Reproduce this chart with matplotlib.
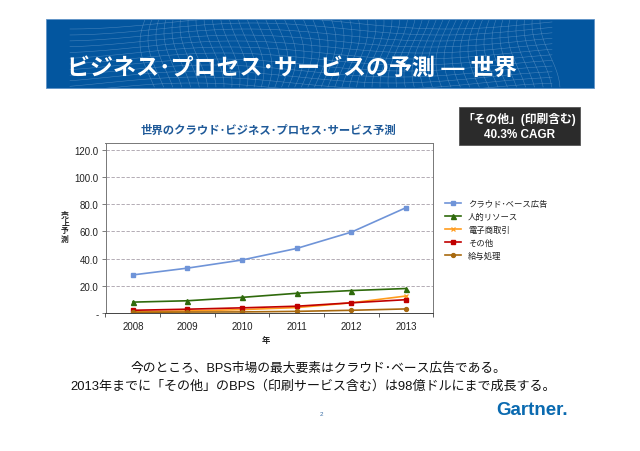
import numpy as np
import matplotlib
matplotlib.use("Agg")
import matplotlib.pyplot as plt
from matplotlib.patches import Rectangle

plt.rcParams['font.family'] = ['Liberation Sans', 'Noto Sans CJK JP', 'DejaVu Sans']

# ---------------------------
# Data
# ---------------------------
years = ['2008', '2009', '2010', '2011', '2012', '2013']
cloud = [28.0, 33.0, 39.0, 47.5, 59.5, 77.5]
hr = [8.0, 9.0, 11.5, 14.5, 16.5, 18.0]
ecommerce = [1.0, 1.5, 2.5, 4.0, 7.5, 12.5]
other = [2.0, 2.8, 3.8, 5.0, 7.5, 9.8]
payroll = [0.5, 0.7, 0.8, 1.2, 2.0, 3.0]
y_ticks = [0, 20, 40, 60, 80, 100, 120]
y_labels = ['-', '20.0', '40.0', '60.0', '80.0', '100.0', '120.0']

W, H = 640, 452
fig = plt.figure(figsize=(W / 100, H / 100), dpi=100, facecolor='white')


def box(x0, y0, x1, y1):
    # pixel box (top-left origin) to figure fractions
    return [x0 / W, 1 - y1 / H, (x1 - x0) / W, (y1 - y0) / H]


# ---------------------------
# Page layer (banner, texts)
# ---------------------------
page = fig.add_axes([0, 0, 1, 1])
page.set_xlim(0, W)
page.set_ylim(H, 0)
page.axis('off')

banner = Rectangle((46, 20), 548, 69, facecolor='#03569f', edgecolor='#5f93c8', lw=0.6)
page.add_patch(banner)

# mesh pattern on the banner, only over the middle part
for gx in np.arange(150, 555, 8):
    yy = np.linspace(21, 88, 40)
    xx = gx + 10 * np.sin((yy + gx * 0.4) / 22)
    ln, = page.plot(xx, yy, color='#7aa6d0', lw=0.4, alpha=0.55)
    ln.set_clip_path(banner)
for gy in np.arange(24, 92, 6):
    xx = np.linspace(70, 552, 80)
    yy = gy + 6 * np.sin((xx + gy) / 60)
    ln, = page.plot(xx, yy, color='#7aa6d0', lw=0.4, alpha=0.55)
    ln.set_clip_path(banner)

page.text(67, 68, 'ビジネス･プロセス･サービスの予測 ― 世界', color='white',
          fontsize=16.6, fontweight='bold', ha='left', va='center')

page.add_patch(Rectangle((459, 108), 121, 38, facecolor='#2b2b2b', edgecolor='#555555', lw=0.6))
page.text(519.5, 119, '「その他」(印刷含む)', color='white', fontsize=8.5, fontweight='bold',
          ha='center', va='center')
page.text(519.5, 135, '40.3% CAGR', color='white', fontsize=8.5, fontweight='bold',
          ha='center', va='center')

page.text(268, 130, '世界のクラウド･ビジネス･プロセス･サービス予測', color='#1f5a99',
          fontsize=8.2, fontweight='bold', ha='center', va='center')

page.text(318, 369, '今のところ、BPS市場の最大要素はクラウド･ベース広告である。',
          color='#111111', fontsize=9.2, ha='center', va='center')
page.text(313, 387, '2013年までに「その他」のBPS（印刷サービス含む）は98億ドルにまで成長する。',
          color='#111111', fontsize=9.4, ha='center', va='center')
page.text(321, 415, '2', color='#3a6ea5', fontsize=4.5, ha='center', va='center')
page.text(532, 411, 'Gartner.', color='#0a6ab0', fontsize=13.5, fontweight='bold',
          ha='center', va='center')

# ---------------------------
# Chart
# ---------------------------
ax = fig.add_axes(box(105.5, 144, 433.5, 314))
x = np.arange(len(years))
ax.plot(x, cloud, color='#6f94d8', marker='s', ms=3.2, lw=1.2, label='クラウド･ベース広告')
ax.plot(x, hr, color='#2f6a0c', marker='^', ms=3.6, lw=1.2, label='人的リソース')
ax.plot(x, ecommerce, color='#ff9c1e', marker='x', ms=3.4, mew=0.9, lw=1.2, label='電子商取引')
ax.plot(x, other, color='#c00000', marker='s', ms=2.8, lw=1.2, label='その他')
ax.plot(x, payroll, color='#a8690f', marker='o', ms=2.8, lw=1.2, label='給与処理')

ax.set_xlim(-0.5, 5.5)
ax.set_ylim(0, 125)
ax.set_xticks(np.arange(-0.5, 6))
ax.set_xticklabels([])
ax.set_xticks(x, minor=True)
ax.set_xticklabels(years, minor=True, fontsize=7, color='#222222')
ax.tick_params(axis='x', which='major', length=3, width=0.6, color='#444444', direction='out')
ax.tick_params(axis='x', which='minor', length=0, pad=6)
ax.set_yticks(y_ticks)
ax.set_yticklabels(y_labels, fontsize=7, color='#222222')
ax.tick_params(axis='y', length=3, width=0.6, color='#666666', pad=2)
ax.grid(axis='y', color='#a79fa9', ls='--', lw=0.6, dashes=(4, 2))
ax.set_axisbelow(True)
for s in ax.spines.values():
    s.set_color('#777777')
    s.set_linewidth(0.7)
ax.spines['bottom'].set_color('#444444')

page.text(266, 341, '年', color='#222222', fontsize=6, fontweight='bold', ha='center', va='center')
page.text(65, 228, '売\n上\n予\n測', color='#222222', fontsize=5.6, fontweight='bold',
          linespacing=1.1, ha='center', va='center')

handles, labels = ax.get_legend_handles_labels()
fig.legend(handles, labels, loc='upper left', bbox_to_anchor=(445 / W, 1 - 201 / H), frameon=False,
           fontsize=6.0, labelcolor='#222222', handlelength=1.9, labelspacing=0.58,
           handletextpad=0.85, borderpad=0, borderaxespad=0)

fig.savefig('out.png', dpi=100)
plt.close(fig)
